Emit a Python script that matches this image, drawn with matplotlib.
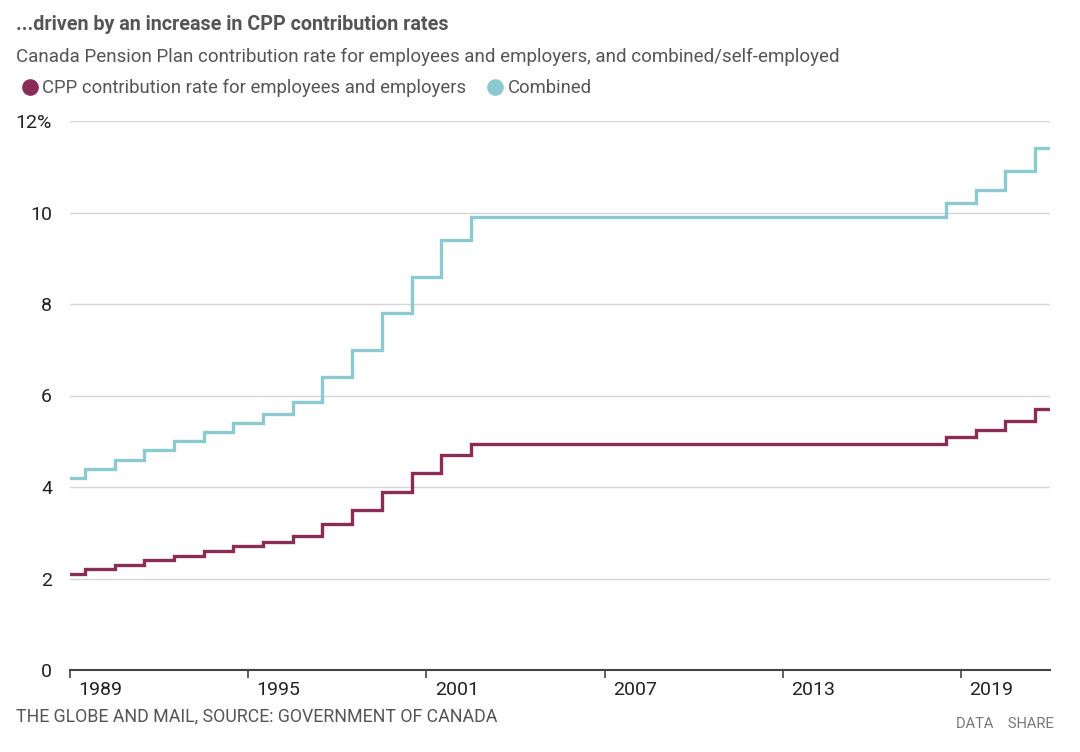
import matplotlib
matplotlib.use("Agg")
import matplotlib.pyplot as plt
from matplotlib.lines import Line2D

# data: CPP contribution rates (%), by year
years = list(range(1989, 2023))
employee_rate = [2.1, 2.2, 2.3, 2.4, 2.5, 2.6, 2.7, 2.8, 2.925, 3.2, 3.5, 3.9, 4.3, 4.7,
                 4.95, 4.95, 4.95, 4.95, 4.95, 4.95, 4.95, 4.95, 4.95, 4.95, 4.95, 4.95,
                 4.95, 4.95, 4.95, 4.95, 5.1, 5.25, 5.45, 5.7]
combined_rate = [4.2, 4.4, 4.6, 4.8, 5.0, 5.2, 5.4, 5.6, 5.85, 6.4, 7.0, 7.8, 8.6, 9.4,
                 9.9, 9.9, 9.9, 9.9, 9.9, 9.9, 9.9, 9.9, 9.9, 9.9, 9.9, 9.9,
                 9.9, 9.9, 9.9, 9.9, 10.2, 10.5, 10.9, 11.4]
x_ticks = [1989, 1995, 2001, 2007, 2013, 2019]
y_ticks = [0, 2, 4, 6, 8, 10, 12]
y_labels = ["0", "2", "4", "6", "8", "10", "12%"]

maroon = "#8a2c55"
teal = "#8ccad2"

plt.rcParams["font.family"] = ["Roboto", "DejaVu Sans"]

fig = plt.figure(figsize=(10.8, 7.52), dpi=100)
ax = fig.add_axes([70 / 1080, 82 / 752, 980 / 1080, 549 / 752])

ax.plot(years, combined_rate, drawstyle="steps-mid", color=teal, lw=2.4, solid_joinstyle="miter")
ax.plot(years, employee_rate, drawstyle="steps-mid", color=maroon, lw=2.4, solid_joinstyle="miter")

ax.set_xlim(1989, 2022)
ax.set_ylim(0, 12)
ax.set_yticks(y_ticks)
ax.set_yticklabels(y_labels)
ax.grid(axis="y", color="#d6d6d6", lw=1)
ax.set_axisbelow(True)
for s in ["top", "right", "left"]:
    ax.spines[s].set_visible(False)
ax.spines["bottom"].set_color("#444444")
ax.spines["bottom"].set_linewidth(1.5)
ax.tick_params(axis="y", length=0, pad=13, labelsize=14, labelcolor="#222222")
ax.set_xticks(x_ticks)
ax.set_xticklabels([])
ax.tick_params(axis="x", length=6, width=1.2, color="#444444", direction="out")
for yr in x_ticks:
    ax.annotate(str(yr), (yr, 0), xytext=(6, -8), textcoords="offset points",
                ha="left", va="top", fontsize=14, color="#222222")

# titles
fig.text(16 / 1080, 1 - 24 / 752, "...driven by an increase in CPP contribution rates",
         fontsize=14.2, fontweight="bold", color="#555555", va="center")
fig.text(16 / 1080, 1 - 57 / 752,
         "Canada Pension Plan contribution rate for employees and employers, and combined/self-employed",
         fontsize=13.5, color="#555555", va="center")

# legend
handles = [Line2D([], [], marker="o", ls="", color=maroon, markersize=11),
           Line2D([], [], marker="o", ls="", color=teal, markersize=11)]
fig.legend(handles, ["CPP contribution rate for employees and employers", "Combined"],
           loc="center left", bbox_to_anchor=(2 / 1080, 1 - 88 / 752), ncol=2, frameon=False,
           fontsize=13.3, handletextpad=0.05, columnspacing=1.0, handlelength=1.2,
           labelcolor="#555555")

fig.text(16 / 1080, 1 - 716 / 752, "THE GLOBE AND MAIL, SOURCE: GOVERNMENT OF CANADA",
         fontsize=12.8, color="#555555", va="center")
fig.text(1054 / 1080, 1 - 724 / 752, "DATA    SHARE", fontsize=10.5, color="#777777",
         ha="right", va="center")

fig.savefig("out.png", dpi=100)
